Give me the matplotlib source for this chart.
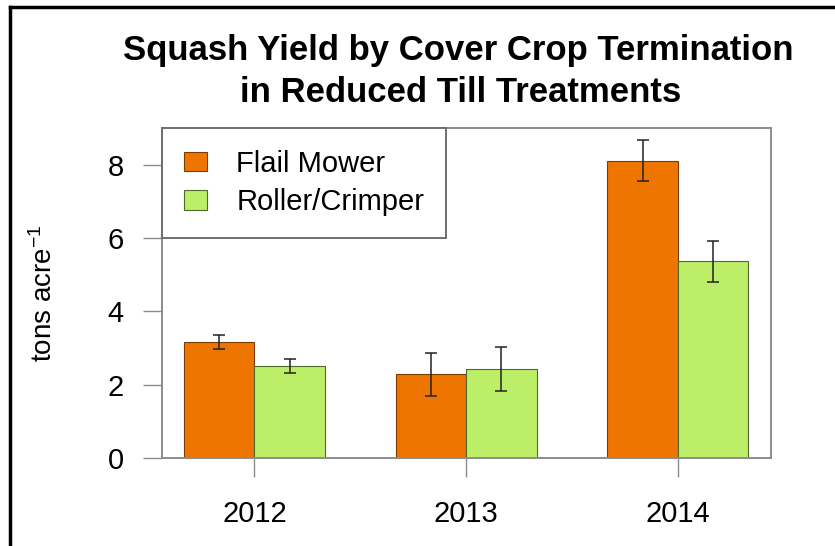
import matplotlib

matplotlib.use("Agg")
import matplotlib.pyplot as plt
from matplotlib.lines import Line2D
import numpy as np

years = ["2012", "2013", "2014"]
treatments = ["Flail Mower", "Roller/Crimper"]
flail_mean = [3.17, 2.28, 8.11]
flail_err = [0.19, 0.59, 0.55]
roller_mean = [2.51, 2.42, 5.37]
roller_err = [0.20, 0.60, 0.56]
bar_colors = ["#EE7600", "#BCEE68"]
edge_colors = ["#7a3d00", "#4f6a2a"]

plt.rcParams["font.family"] = ["Liberation Sans", "DejaVu Sans"]
plt.rcParams["mathtext.default"] = "regular"

fig = plt.figure(figsize=(8.35, 5.46), dpi=100)
ax = fig.add_axes([0.194, 0.1612, 0.7293, 0.6044])

# R-style barplot layout: unit bar width, one-bar gap between groups
centers = np.array([1.0, 4.0, 7.0])
means = [flail_mean, roller_mean]
errs = [flail_err, roller_err]
for k in range(2):
    xpos = centers - 0.5 + k
    ax.bar(xpos, means[k], width=1.0, color=bar_colors[k], edgecolor=edge_colors[k],
           linewidth=0.8, label=treatments[k], zorder=2)
    ax.errorbar(xpos, means[k], yerr=errs[k], fmt="none", ecolor="#222222",
                elinewidth=1.1, capsize=4.5, capthick=1.1, zorder=3)

ax.set_xlim(-0.31, 8.32)
ax.set_ylim(0, 9)
ax.set_yticks([0, 2, 4, 6, 8])
ax.set_xticks(centers)
ax.set_xticklabels(years)
for s in ax.spines.values():
    s.set_color("#8c8c8c")
    s.set_linewidth(1.4)
ax.tick_params(axis="y", length=13.5, width=1.0, color="#8c8c8c", labelsize=21, pad=14)
ax.tick_params(axis="x", length=13.5, width=1.0, color="#8c8c8c", labelsize=21, pad=17)
ax.set_ylabel("tons acre$^{-1}$", fontsize=20)
ax.yaxis.set_label_coords(-0.17, 0.5)

leg = ax.legend(loc="upper left", bbox_to_anchor=(0, 1), borderaxespad=0, fontsize=21,
                frameon=True, fancybox=False, handlelength=0.8, handleheight=0.65,
                handletextpad=1.0, labelspacing=0.35, borderpad=0.75)
leg.get_frame().set_edgecolor("#6f6f6f")
leg.get_frame().set_linewidth(1.4)
leg.get_frame().set_alpha(1)

fig.text(0.549, 0.908, "Squash Yield by Cover Crop Termination", ha="center", va="center",
         fontsize=25, fontweight="bold")
fig.text(0.552, 0.830, "in Reduced Till Treatments", ha="center", va="center",
         fontsize=25, fontweight="bold")

# frame lines along top and left edge of the image
fig.add_artist(Line2D([0.012, 1.0], [0.987, 0.987], transform=fig.transFigure,
                      color="black", linewidth=2.5))
fig.add_artist(Line2D([0.012, 0.012], [0.0, 0.987], transform=fig.transFigure,
                      color="black", linewidth=2.5))

fig.savefig("out.png", dpi=100)
